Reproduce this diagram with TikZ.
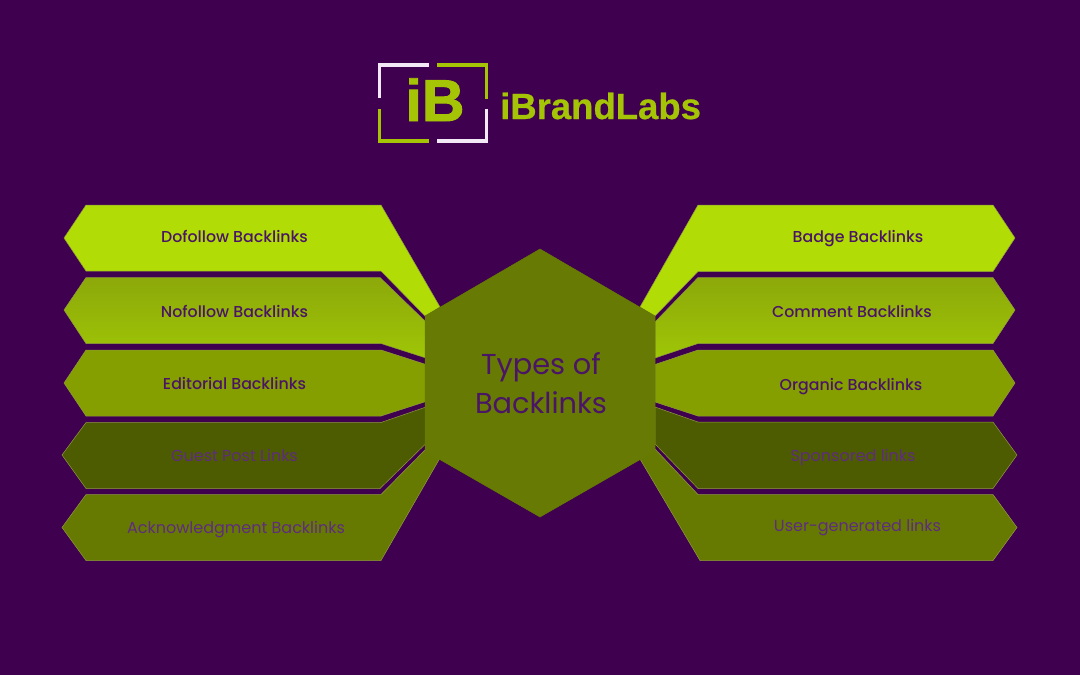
\documentclass[tikz,border=0pt]{standalone}
\usepackage{fontspec}
\setmainfont{Poppins}
\newfontfamily\popm{Poppins}[UprightFont=* Medium]
\newfontfamily\logofont{Liberation Sans}[UprightFont=* Bold]
\font\iBfont="Liberation Sans/B:embolden=1.6" at 59pt
\font\brandfont="Liberation Sans/B:embolden=0.6" at 36.5pt
\definecolor{bgc}{HTML}{3F0050}
\definecolor{c1}{HTML}{B2DC05}
\definecolor{c2a}{HTML}{8CA80A}
\definecolor{c2b}{HTML}{9FC606}
\definecolor{c3}{HTML}{859E00}
\definecolor{c4}{HTML}{4D5C00}
\definecolor{c5}{HTML}{667A02}
\definecolor{hexc}{HTML}{667A04}
\definecolor{edge}{HTML}{8F9A40}
\definecolor{logog}{HTML}{A5C405}
\definecolor{logow}{HTML}{F3E8F5}
\definecolor{tx}{HTML}{4A1566}
\definecolor{txd}{HTML}{5E2C80}
\tikzset{
  band/.style={draw=edge,line width=0.5pt,line join=miter},
  lab/.style={anchor=base,inner sep=0pt,font=\popm\fontsize{15.8}{16}\selectfont,text=tx},
  labd/.style={lab,text=txd,font=\fontsize{16}{16}\selectfont},
  centre/.style={anchor=base,inner sep=0pt,font=\fontsize{28.8}{29}\selectfont,text=tx},
  framew/.style={draw=logow,line width=3.6pt,line cap=butt,line join=miter},
  frameg/.style={draw=logog,line width=3.6pt,line cap=butt,line join=miter},
}
\begin{document}
\begin{tikzpicture}[x=1pt,y=-1pt]
\fill[bgc] (0,0) rectangle (1080,675);
\useasboundingbox (0,0) rectangle (1080,675);
% left bands
\path[band,fill=c1] (64,238)--(86,205)--(381,205)--(440,307)--(425,316)--(381,271)--(86,271)--cycle;
\path[band,bottom color=c2b,top color=c2a] (64,310)--(86,277.5)--(380,277.5)--(426,322)--(426,358)--(381,343.5)--(86,343.5)--cycle;
\path[band,fill=c3] (64,383)--(86,350)--(381,350)--(426,364.5)--(426,401.5)--(381,416)--(86,416)--cycle;
\path[band,fill=c4] (62,455)--(86,422.5)--(381,422.5)--(426,407)--(426,443.5)--(380,488.5)--(86,488.5)--cycle;
\path[band,fill=c5] (62,527.5)--(86,494.5)--(381,494.5)--(426,449)--(440,458)--(381,560.5)--(86,560.5)--cycle;
% right bands
\path[band,fill=c1] (1015,238)--(993,205)--(698,205)--(640,307)--(655,316)--(698,271.5)--(993,271.5)--cycle;
\path[band,bottom color=c2b,top color=c2a] (1015,310)--(993,277.5)--(698,277.5)--(655,322)--(655,358)--(698,343.5)--(993,343.5)--cycle;
\path[band,fill=c3] (1015,383)--(993,350)--(698,350)--(655,364.5)--(655,402)--(698,416)--(993,416)--cycle;
\path[band,fill=c4] (1017,455)--(993,422)--(698,422)--(655,407)--(655,444)--(698,488.5)--(993,488.5)--cycle;
\path[band,fill=c5] (1017,527.5)--(993,494.5)--(698,494.5)--(655,449)--(640,459)--(700,560.5)--(993,560.5)--cycle;
% hexagon
\path[band,fill=hexc,draw=hexc] (540,249)--(655,316)--(655,451)--(540,517)--(425,451)--(425,316)--cycle;
% labels
\node[lab] (l1) at (234.5,242) {Dofollow Backlinks};
\node[lab] (l2) at (234.5,317.5) {Nofollow Backlinks};
\node[lab] (l3) at (234.5,389) {Editorial Backlinks};
\node[labd] (l4) at (234.5,461.5) {Guest Post Links};
\node[labd] (l5) at (236,533.5) {Acknowledgment Backlinks};
\node[lab] (r1) at (858,242.5) {Badge Backlinks};
\node[lab] (r2) at (852,317.5) {Comment Backlinks};
\node[lab] (r3) at (851,390) {Organic Backlinks};
\node[labd] (r4) at (853,461.5) {Sponsored links};
\node[labd] (r5) at (857.5,531) {User-generated links};
\node[centre] (c1) at (541,374) {Types of};
\node[centre] (c2) at (541,413) {Backlinks};
% logo
\draw[framew] (429,65)--(379.5,65)--(379.5,98);
\draw[frameg] (437,65)--(486.5,65)--(486.5,99);
\draw[frameg] (379.5,109)--(379.5,141)--(429,141);
\draw[framew] (437,141)--(486.5,141)--(486.5,109);
\node[anchor=base,inner sep=0pt,font=\iBfont,text=logog] (iB) at (435,121) {iB};
\node[anchor=base west,inner sep=0pt,font=\brandfont,text=logog] (brand) at (500,119) {iBrandLabs};
\end{tikzpicture}
\end{document}
